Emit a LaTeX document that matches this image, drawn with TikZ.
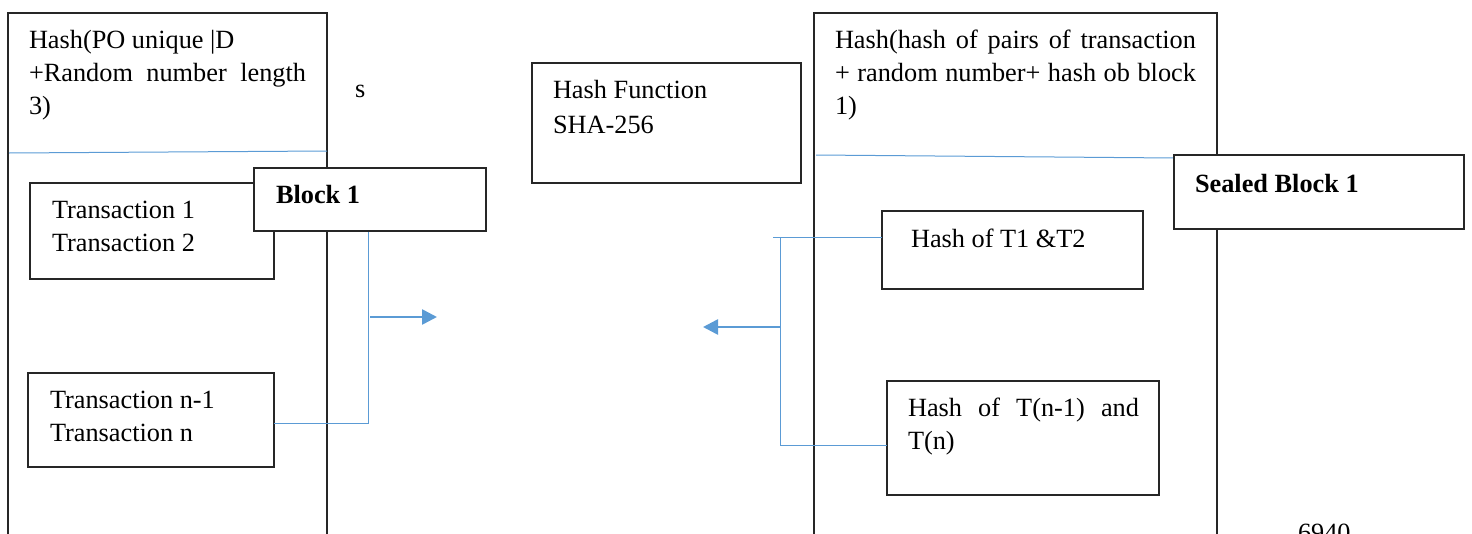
\documentclass[tikz,border=0pt]{standalone}
\usepackage{fontspec}
\setmainfont{Liberation Serif}
\usetikzlibrary{arrows.meta}
\definecolor{lnblue}{RGB}{91,155,213}
\begin{document}
\begin{tikzpicture}[x=1pt,y=-1pt,
  box/.style={draw=black!85, line width=1.1pt, inner sep=0pt, outer sep=0pt, anchor=north west},
  wbox/.style={box, fill=white},
  txt/.style={inner sep=0pt, outer sep=0pt, anchor=base west, font=\fontsize{26.3pt}{33pt}\selectfont},
  btxt/.style={txt, font=\fontsize{26.3pt}{33pt}\selectfont\bfseries},
  thin/.style={draw=lnblue, line width=1pt},
  fat/.style={draw=lnblue, line width=2.6pt, -{Triangle[length=15pt,width=15pt]}}]
\useasboundingbox (0,0) rectangle (1472,533);
% big container boxes (open at the bottom, running off the page)
\node[box, minimum width=319pt, minimum height=580pt] (lb) at (8,13) {};
\node[box, minimum width=403pt, minimum height=580pt] (rb) at (814,13) {};
% separator lines
\coordinate (ls1) at (9,153);
\coordinate (ls2) at (327,151);
\draw[thin] (ls1) -- (ls2);
\coordinate (rs1) at (816,155);
\coordinate (rs2) at (1174,158);
\draw[thin] (rs1) -- (rs2);
% inner boxes
\node[box, minimum width=244pt, minimum height=96pt] (t12) at (30,183) {};
\node[box, minimum width=246pt, minimum height=94pt] (tn) at (28,373) {};
\node[box, minimum width=269pt, minimum height=120pt] (hf) at (532,63) {};
\node[box, minimum width=261pt, minimum height=78pt] (h12) at (882,211) {};
\node[box, minimum width=272pt, minimum height=114pt] (hn) at (887,381) {};
% left connector
\coordinate (lj) at (368,423);
\coordinate (la1) at (370,317);
\coordinate (la2) at (437,317);
\draw[thin] (tn.east |- lj) -- (lj) -- (368,231);
\draw[fat] (la1) -- (la2);
% right connector
\coordinate (rt) at (773,237);
\coordinate (rv1) at (780,237);
\coordinate (rv2) at (780,445);
\coordinate (ra2) at (703,327);
\draw[thin] (rt) -- (h12.west |- rt);
\draw[thin] (rv1) -- (rv2) -- (hn.west |- rv2);
\draw[fat] (rv1 |- ra2) -- (ra2);
% overlapping title boxes
\node[wbox, minimum width=232pt, minimum height=63pt] (b1) at (254,168) {};
\node[wbox, minimum width=290pt, minimum height=74pt] (sb1) at (1174,155) {};
% texts
\node[txt] (lt1) at (29,48) {Hash(PO unique |D};
\node[txt] (lt2) at (29,81) {\makebox[277pt][s]{+Random number length}};
\node[txt] (lt3) at (29,114) {3)};
\node[txt] (s) at (355,97) {s};
\node[txt] (t1) at (52,218) {Transaction 1};
\node[txt] (t2) at (52,251) {Transaction 2};
\node[txt] (tn1) at (50,408) {Transaction n-1};
\node[txt] (tn2) at (50,441) {Transaction n};
\node[btxt] (b1t) at (276,203) {Block 1};
\node[txt] (hf1) at (553,98) {Hash Function};
\node[txt] (hf2) at (553,133) {SHA-256};
\node[txt] (rt1) at (835,48) {\makebox[361pt][s]{Hash(hash of pairs of transaction}};
\node[txt] (rt2) at (835,81) {\makebox[361pt][s]{+ random number+ hash ob block}};
\node[txt] (rt3) at (835,114) {1)};
\node[btxt] (sb1t) at (1195,192) {Sealed Block 1};
\node[txt] (h12t) at (911,247) {Hash of T1 \&T2};
\node[txt] (hn1) at (908,416) {\makebox[231pt][s]{Hash of T(n-1) and}};
\node[txt] (hn2) at (908,449) {T(n)};
\node[txt] (pg) at (1298,541) {6940};
\end{tikzpicture}
\end{document}
